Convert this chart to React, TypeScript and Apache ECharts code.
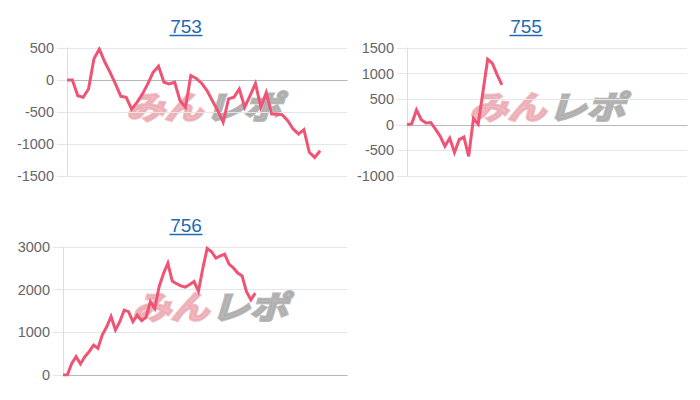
import React, { useEffect, useRef } from "react";
import * as echarts from "echarts";

const titles = ["753", "755", "756"];
const slotCounts = [53, 60, 66];

const values753 = [
  0, 0, -245, -270, -140, 330, 485, 285, 120, -60, -255, -270, -455, -350, -220, -60,
  120, 215, -35, -60, -35, -325, -425, 70, 25, -50, -165, -325, -480, -660, -295, -270,
  -140, -425, -245, -55, -425, -195, -530, -530, -545, -635, -765, -845, -775, -1130,
  -1210, -1105,
];
const values755 = [
  0, 20, 290, 100, 35, 45, -85, -225, -420, -260, -540, -290, -240, -615, 120, 10, 640,
  1280, 1200, 975, 780,
];
const values756 = [
  0, 0, 270, 430, 260, 430, 550, 700, 625, 940, 1130, 1370, 1055, 1250, 1520, 1485, 1250,
  1405, 1275, 1350, 1720, 1560, 2070, 2380, 2620, 2200, 2140, 2090, 2060, 2120, 2190, 1960,
  2500, 2970, 2890, 2740, 2790, 2830, 2600, 2510, 2390, 2320, 1950, 1760, 1920,
];
const seriesValues = [values753, values755, values756];

const yMins = [-1500, -1000, 0];
const yMaxs = [500, 1500, 3000];
const yIntervals = [500, 500, 1000];

const grids = [
  { left: 67, top: 48, width: 280, height: 128 },
  { left: 407, top: 48, width: 280, height: 128 },
  { left: 63, top: 247, width: 284, height: 128 },
];
const titlePos = [
  { x: 186, y: 26 },
  { x: 526, y: 26 },
  { x: 186, y: 225 },
];
const markPos = [
  { x: 203, y: 105 },
  { x: 546, y: 105 },
  { x: 209, y: 305 },
];

const LINE_COLOR = "#ef5474";
const LINK_COLOR = "#1f6bb0";
const MARK_FONT = "italic bold 32px 'Noto Sans CJK JP', sans-serif";

export default function App() {
  const ref = useRef<HTMLDivElement>(null);
  useEffect(() => {
    if (!ref.current) return;
    const chart = echarts.init(ref.current, undefined, { renderer: "svg" });

    const graphics: any[] = [];
    titles.forEach((t, i) => {
      const p = titlePos[i];
      graphics.push({
        type: "text",
        x: p.x,
        y: p.y,
        style: {
          text: t,
          fill: LINK_COLOR,
          font: "19px 'Liberation Sans', Arial, sans-serif",
          textAlign: "center",
          textVerticalAlign: "middle",
        },
      });
      graphics.push({
        type: "line",
        shape: { x1: p.x - 16.5, y1: p.y + 9.5, x2: p.x + 16.5, y2: p.y + 9.5 },
        style: { stroke: LINK_COLOR, lineWidth: 1.5 },
      });
      const m = markPos[i];
      graphics.push({
        type: "text",
        x: m.x,
        y: m.y,
        scaleX: 1.2,
        z: 0,
        style: {
          text: "みん",
          fill: "rgba(236,168,176,0.8)",
          stroke: "rgba(236,168,176,0.8)",
          lineWidth: 2.5,
          font: MARK_FONT,
          textAlign: "right",
          textVerticalAlign: "middle",
        },
      });
      graphics.push({
        type: "text",
        x: m.x + 2,
        y: m.y,
        scaleX: 1.2,
        z: 0,
        style: {
          text: "レポ",
          fill: "rgba(172,172,172,0.85)",
          stroke: "rgba(172,172,172,0.85)",
          lineWidth: 2.5,
          font: MARK_FONT,
          textAlign: "left",
          textVerticalAlign: "middle",
        },
      });
    });

    chart.setOption({
      animation: false,
      backgroundColor: "#ffffff",
      grid: grids.map((g) => ({ ...g, containLabel: false })),
      xAxis: slotCounts.map((n, i) => ({
        type: "category",
        gridIndex: i,
        boundaryGap: false,
        data: Array.from({ length: n }, (_, k) => String(k + 1)),
        axisLine: { show: true, onZero: true, lineStyle: { color: "#b8b8b8", width: 1 } },
        axisTick: { show: false },
        axisLabel: { show: false },
        splitLine: { show: false },
      })),
      yAxis: titles.map((_, i) => ({
        type: "value",
        gridIndex: i,
        min: yMins[i],
        max: yMaxs[i],
        interval: yIntervals[i],
        axisLine: { show: true, lineStyle: { color: "#dddddd", width: 1 } },
        axisTick: { show: true, length: 10, lineStyle: { color: "#e6e6e6" } },
        axisLabel: {
          color: "#666666",
          fontSize: 14.5,
          fontFamily: "'Liberation Sans', Arial, sans-serif",
          margin: 13,
          formatter: (v: number) => String(v),
        },
        splitLine: { show: true, lineStyle: { color: "#e6e6e6", width: 1 } },
      })),
      series: seriesValues.map((vals, i) => ({
        type: "line",
        xAxisIndex: i,
        yAxisIndex: i,
        data: vals,
        showSymbol: false,
        symbol: "none",
        z: 5,
        lineStyle: { color: LINE_COLOR, width: 3, join: "miter" },
      })),
      graphic: graphics,
    });

    return () => chart.dispose();
  }, []);

  return <div ref={ref} style={{ width: 700, height: 400, position: "absolute", left: 0, top: 0 }} />;
}
